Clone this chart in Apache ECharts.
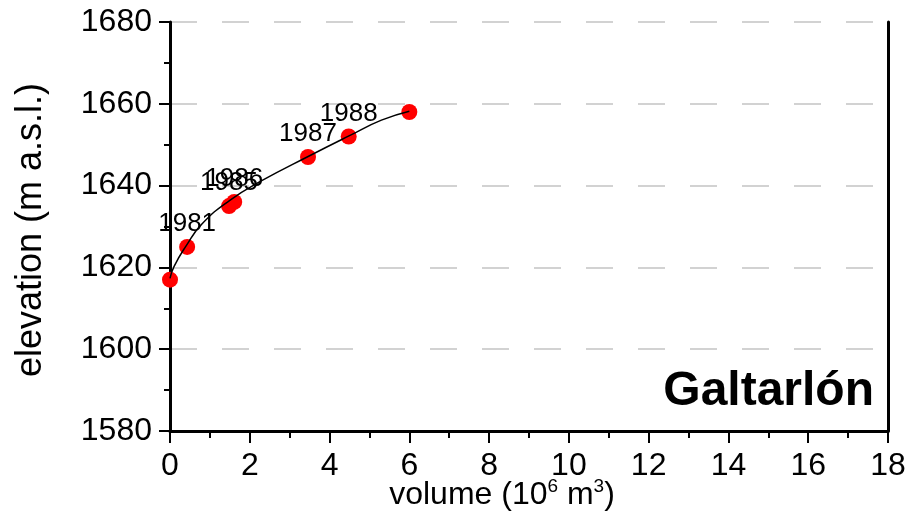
<!DOCTYPE html>
<html>
<head>
<meta charset="utf-8">
<script src="https://cdn.jsdelivr.net/npm/echarts@6/dist/echarts.min.js"></script>
<style>html,body{margin:0;padding:0;background:#fff}#c{width:920px;height:531px}</style>
</head>
<body>
<div id="c"></div>
<script>
// survey points
const volume = [0, 0.43, 1.48, 1.61, 3.46, 4.48, 6.0];
const elevation = [1617, 1625, 1635, 1636, 1647, 1652, 1658];
const years = ['', '1981', '1985', '1986', '1987', '1988', ''];
// fitted curve
const curveVolume = [0, 0.1, 0.4, 0.8, 1.5, 2.3, 3.5, 4.5, 5.3, 6.0];
const curveElevation = [1617.3, 1620.2, 1625.2, 1630.6, 1636.4, 1641.2, 1647.3, 1652.2, 1656.0, 1658.2];
// axes
const xMin = 0, xMax = 18, xStep = 2;
const yMin = 1580, yMax = 1680, yStep = 20;
const xTitle = ['volume (10', '6', ' m', '3', ')'];
const yTitle = 'elevation (m a.s.l.)';
const siteName = 'Galtarlón';

const FONT = '"Liberation Sans", Arial, sans-serif';
const chart = echarts.init(document.getElementById('c'), null, {renderer: 'canvas'});

const pts = volume.map((v, i) => ({value: [v, elevation[i]], name: years[i]}));
const curve = curveVolume.map((v, i) => [v, curveElevation[i]]);

chart.setOption({
  animation: false,
  backgroundColor: '#fff',
  grid: {left: 170, right: 32, top: 22, bottom: 100, containLabel: false},
  xAxis: {
    type: 'value', min: xMin, max: xMax, interval: xStep,
    axisLine: {show: true, onZero: false, lineStyle: {color: '#000', width: 3}},
    axisTick: {show: true, length: 12, lineStyle: {color: '#000', width: 2}},
    minorTick: {show: true, splitNumber: 2, length: 7, lineStyle: {color: '#000', width: 2}},
    axisLabel: {color: '#000', fontSize: 32, fontFamily: FONT, margin: 19, formatter: v => String(v)},
    splitLine: {show: false}
  },
  yAxis: [{
    type: 'value', min: yMin, max: yMax, interval: yStep,
    axisLine: {show: true, onZero: false, lineStyle: {color: '#000', width: 3}},
    axisTick: {show: true, length: 11, lineStyle: {color: '#000', width: 2}},
    minorTick: {show: true, splitNumber: 2, length: 6, lineStyle: {color: '#000', width: 2}},
    axisLabel: {color: '#000', fontSize: 32, fontFamily: FONT, margin: 18, formatter: v => String(v)},
    splitLine: {show: true, lineStyle: {color: '#c4c4c4', width: 1.5, type: [27, 25]}}
  }, {
    type: 'value', min: yMin, max: yMax, interval: yStep, position: 'right',
    axisLine: {show: true, onZero: false, lineStyle: {color: '#000', width: 3}},
    axisTick: {show: false}, axisLabel: {show: false}, splitLine: {show: false}
  }],
  series: [{
    type: 'scatter',
    data: pts,
    symbol: 'circle', symbolSize: 16,
    itemStyle: {color: '#ff0000', opacity: 1},
    label: {show: true, position: 'top', distance: 2, formatter: '{b}', color: '#000', fontSize: 26, fontFamily: FONT},
    z: 2
  }, {
    type: 'line',
    data: curve,
    smooth: true, showSymbol: false, symbol: 'none',
    lineStyle: {color: '#000', width: 1.5},
    z: 3, silent: true
  }],
  graphic: [{
    type: 'text', x: 31, y: 230, rotation: Math.PI / 2,
    style: {text: yTitle, fill: '#000', font: '36px ' + FONT, align: 'center', verticalAlign: 'middle'}
  }, {
    type: 'text', x: 502, y: 495,
    style: {
      text: '{a|' + xTitle[0] + '}{s|' + xTitle[1] + '}{a|' + xTitle[2] + '}{s|' + xTitle[3] + '}{a|' + xTitle[4] + '}',
      align: 'center', verticalAlign: 'middle',
      rich: {
        a: {fontSize: 32, fontFamily: FONT, color: '#000', lineHeight: 36},
        s: {fontSize: 19, fontFamily: FONT, color: '#000', lineHeight: 36, verticalAlign: 'top'}
      }
    }
  }, {
    type: 'text', x: 874, y: 392,
    style: {text: siteName, fill: '#000', font: 'bold 48px ' + FONT, align: 'right', verticalAlign: 'middle'}
  }]
});
</script>
</body>
</html>
